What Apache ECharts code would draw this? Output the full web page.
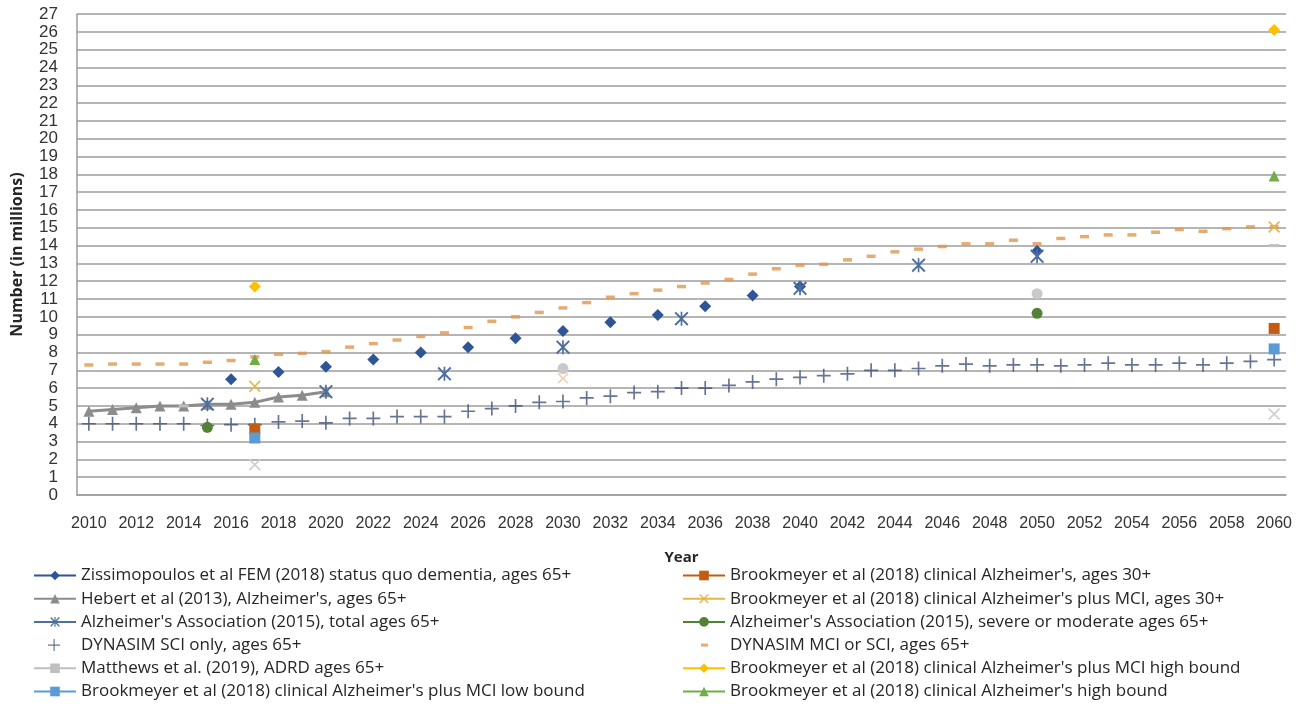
<!DOCTYPE html>
<html>
<head>
<meta charset="utf-8">
<script src="https://cdn.jsdelivr.net/npm/echarts@6/dist/echarts.min.js"></script>
<style>
  html, body { margin: 0; padding: 0; background: #fff; }
  #chart { width: 1307px; height: 711px; }
</style>
</head>
<body>
<div id="chart"></div>
<script>
// x categories, one per year
const years = ['2010', '2011', '2012', '2013', '2014', '2015', '2016', '2017', '2018', '2019',
    '2020', '2021', '2022', '2023', '2024', '2025', '2026', '2027', '2028', '2029',
    '2030', '2031', '2032', '2033', '2034', '2035', '2036', '2037', '2038', '2039',
    '2040', '2041', '2042', '2043', '2044', '2045', '2046', '2047', '2048', '2049',
    '2050', '2051', '2052', '2053', '2054', '2055', '2056', '2057', '2058', '2059', '2060'];

// DYNASIM runs cover every year
const dynasimSci = [4.0, 4.0, 4.0, 4.0, 4.0, 3.9, 3.95, 3.95, 4.1, 4.15,
    4.05, 4.3, 4.3, 4.4, 4.4, 4.4, 4.7, 4.85, 5.0, 5.2,
    5.25, 5.45, 5.55, 5.75, 5.8, 6.0, 6.0, 6.15, 6.35, 6.5,
    6.6, 6.7, 6.8, 7.0, 7.0, 7.1, 7.25, 7.35, 7.25, 7.3,
    7.3, 7.25, 7.3, 7.4, 7.3, 7.3, 7.4, 7.3, 7.4, 7.5, 7.6];
const dynasimMci = [7.3, 7.35, 7.35, 7.35, 7.35, 7.45, 7.55, 7.75, 7.9, 7.95,
    8.05, 8.3, 8.5, 8.7, 8.9, 9.1, 9.4, 9.75, 10.0, 10.25,
    10.5, 10.8, 11.1, 11.3, 11.5, 11.7, 11.9, 12.1, 12.4, 12.7,
    12.9, 12.95, 13.2, 13.4, 13.65, 13.8, 13.95, 14.1, 14.1, 14.3,
    14.1, 14.4, 14.5, 14.6, 14.6, 14.75, 14.9, 14.8, 14.95, 15.05, 15.05];

// sparse studies: years + values
const zissYears = [2016, 2018, 2020, 2022, 2024, 2026, 2028, 2030, 2032, 2034, 2036, 2038, 2040, 2050];
const zissValues = [6.5, 6.9, 7.2, 7.6, 8.0, 8.3, 8.8, 9.2, 9.7, 10.1, 10.6, 11.2, 11.7, 13.7];

const hebertYears = [2010, 2011, 2012, 2013, 2014, 2015, 2016, 2017, 2018, 2019, 2020];
const hebertValues = [4.7, 4.8, 4.9, 5.0, 5.0, 5.1, 5.1, 5.2, 5.5, 5.6, 5.8];

const alzTotalYears = [2015, 2020, 2025, 2030, 2035, 2040, 2045, 2050];
const alzTotalValues = [5.1, 5.8, 6.8, 8.3, 9.9, 11.6, 12.9, 13.4];

const alzSevereYears = [2015, 2050];
const alzSevereValues = [3.8, 10.2];

const matthewsYears = [2014, 2060];
const matthewsValues = [5.0, 14.0];

const brookYears = [2017, 2060];
const brookClinical = [3.7, 9.35];
const brookPlusMci = [6.1, 15.05];
const brookPlusMciHigh = [11.7, 26.1];
const brookPlusMciLow = [3.2, 8.2];
const brookClinicalHigh = [7.6, 17.9];
const brookClinicalLow = [1.7, 4.55];

const extraCircleYears = [2030, 2050];
const extraCircleValues = [7.1, 11.3];
const extraCrossYears = [2030];
const extraCrossValues = [6.55];

const yTicks = { min: 0, max: 27, interval: 1 };

const PLUS = 'path://M4.4,0h1.2v10h-1.2z M0,4.4h10v1.2h-10z';
const CROSS = 'path://M0,1L1,0L5,4L9,0L10,1L6,5L10,9L9,10L5,6L1,10L0,9L4,5Z';
const STAR = 'path://M0,1L1,0L5,4L9,0L10,1L6,5L10,9L9,10L5,6L1,10L0,9L4,5Z M4.4,0h1.2v10h-1.2z';
const DASH = 'path://M0,0h10v4h-10z';
// legend-only icons, padded so they keep a small size in the 42x12 icon box
const DASH_ICON = 'path://M0,0M42,12M18,4.5h7v3h-7z';
const PLUS_ICON = 'path://M0,0M42,12M19.5,0h1.2v12h-1.2z M14,5.4h12v1.2h-12z';

const FONT = 'Open Sans';
const GRID_GREY = '#9c9c9c';

/**
 * Puts sparse values on the full list of years, nulls elsewhere.
 */
function expand(ys, vs) {
    const out = years.map(() => null);
    ys.forEach((y, i) => {
        out[years.indexOf(String(y))] = vs[i];
    });
    return out;
}

function lineSeries(name, data, color, symbol, size, extra) {
    return Object.assign({
        name: name,
        type: 'line',
        data: data,
        symbol: symbol,
        symbolSize: size,
        showAllSymbol: true,
        connectNulls: false,
        itemStyle: { color: color },
        lineStyle: { color: color, width: 2.5 },
        emphasis: { disabled: true }
    }, extra || {});
}

function scatterSeries(name, data, color, symbol, size) {
    return {
        name: name,
        type: 'scatter',
        data: data,
        symbol: symbol,
        symbolSize: size,
        itemStyle: { color: color },
        emphasis: { disabled: true }
    };
}

const names = {
    ziss: 'Zissimopoulos et al FEM (2018) status quo dementia, ages 65+',
    clin30: 'Brookmeyer et al (2018) clinical Alzheimer\'s, ages 30+',
    hebert: 'Hebert et al (2013), Alzheimer\'s, ages 65+',
    mci30: 'Brookmeyer et al (2018) clinical Alzheimer\'s plus MCI, ages 30+',
    alzTotal: 'Alzheimer\'s Association (2015), total ages 65+',
    alzSevere: 'Alzheimer\'s Association (2015), severe or moderate ages 65+',
    dynSci: 'DYNASIM SCI only, ages 65+',
    dynMci: 'DYNASIM MCI or SCI, ages 65+',
    matthews: 'Matthews et al. (2019), ADRD ages 65+',
    mciHigh: 'Brookmeyer et al (2018) clinical Alzheimer\'s plus MCI high bound',
    mciLow: 'Brookmeyer et al (2018) clinical Alzheimer\'s plus MCI low bound',
    clinHigh: 'Brookmeyer et al (2018) clinical Alzheimer\'s high bound'
};

const legendText = { fontFamily: FONT, fontSize: 17, lineHeight: 17, color: '#262626' };

function legendColumn(left, items) {
    return {
        orient: 'vertical', left: left, top: 562, height: 148,
        itemWidth: 42, itemHeight: 12, itemGap: 6.2,
        textStyle: legendText,
        data: items
    };
}

const chart = echarts.init(document.getElementById('chart'));

const options = {
    animation: false,
    backgroundColor: '#ffffff',
    grid: { left: 77, top: 14, width: 1209, height: 481 },
    legend: [
        legendColumn(28, [names.ziss, names.hebert, names.alzTotal,
            { name: names.dynSci, icon: PLUS_ICON },
            names.matthews, names.mciLow]),
        legendColumn(677, [names.clin30, names.mci30, names.alzSevere,
            { name: names.dynMci, icon: DASH_ICON },
            names.mciHigh, names.clinHigh])
    ],
    xAxis: {
        type: 'category',
        data: years,
        boundaryGap: true,
        name: 'Year',
        nameLocation: 'middle',
        nameGap: 55,
        nameTextStyle: { fontFamily: FONT, fontSize: 15, fontWeight: 'bold', color: '#262626' },
        axisLine: { show: true, lineStyle: { color: GRID_GREY, width: 1.5 } },
        axisTick: { show: false },
        axisLabel: { interval: 1, margin: 21, fontFamily: 'Liberation Sans', fontSize: 16, color: '#333' },
        splitLine: { show: false }
    },
    yAxis: {
        type: 'value',
        min: yTicks.min,
        max: yTicks.max,
        interval: yTicks.interval,
        name: 'Number (in millions)',
        nameLocation: 'middle',
        nameGap: 52,
        nameTextStyle: { fontFamily: FONT, fontSize: 16, fontWeight: 'bold', color: '#262626' },
        axisLine: { show: true, lineStyle: { color: GRID_GREY, width: 1.5 } },
        axisTick: { show: false },
        axisLabel: { margin: 19, fontFamily: 'Liberation Sans', fontSize: 17, color: '#333' },
        splitLine: { lineStyle: { color: GRID_GREY, width: 1.5 } }
    },
    series: [
        lineSeries(names.ziss, expand(zissYears, zissValues), '#2f5597', 'diamond', 12),
        lineSeries(names.clin30, expand(brookYears, brookClinical), '#c55a11', 'rect', 11),
        lineSeries(names.hebert, expand(hebertYears, hebertValues), '#8c8c8c', 'triangle', 11,
            { lineStyle: { color: '#8c8c8c', width: 3 } }),
        lineSeries(names.mci30, expand(brookYears, brookPlusMci), '#e2b64a', CROSS, 12),
        lineSeries(names.alzTotal, expand(alzTotalYears, alzTotalValues), '#4e6e9e', STAR, 14),
        lineSeries(names.alzSevere, expand(alzSevereYears, alzSevereValues), '#548235', 'circle', 11),
        scatterSeries(names.dynSci, dynasimSci, '#3f5378', PLUS, 14),
        scatterSeries(names.dynMci, dynasimMci, '#e0964f', DASH, [9, 3.5]),
        lineSeries(names.matthews, expand(matthewsYears, matthewsValues), '#bfbfbf', DASH, [10, 3]),
        lineSeries(names.mciHigh, expand(brookYears, brookPlusMciHigh), '#ffc000', 'diamond', 12),
        lineSeries(names.mciLow, expand(brookYears, brookPlusMciLow), '#5b9bd5', 'rect', 11),
        lineSeries(names.clinHigh, expand(brookYears, brookClinicalHigh), '#70ad47', 'triangle', 11),
        lineSeries('Brookmeyer low bound', expand(brookYears, brookClinicalLow), '#d0d0d0', CROSS, 12),
        lineSeries('Extra circle', expand(extraCircleYears, extraCircleValues), '#c9c9c9', 'circle', 11),
        lineSeries('Extra cross', expand(extraCrossYears, extraCrossValues), '#f8cbad', CROSS, 11)
    ]
};

chart.setOption(options);
</script>
</body>
</html>
